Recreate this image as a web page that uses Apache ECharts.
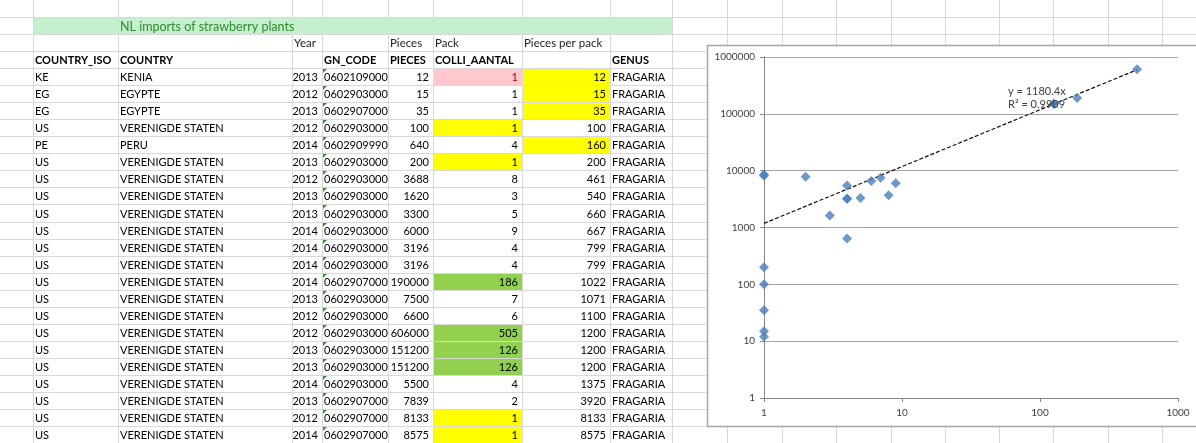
<!DOCTYPE html>
<html><head><meta charset="utf-8">
<script src="https://cdn.jsdelivr.net/npm/echarts@6/dist/echarts.min.js"></script>
<style>html,body{margin:0;padding:0;background:#fff;overflow:hidden}#c{width:1196px;height:443px}</style>
</head><body><div id="c"></div>
<script>
// ---------- data ----------
const sheetTitle = 'NL imports of strawberry plants';
const headerTop = ['', '', 'Year', '', 'Pieces', 'Pack', 'Pieces per pack', ''];
const headerMain = ['COUNTRY_ISO', 'COUNTRY', '', 'GN_CODE', 'PIECES', 'COLLI_AANTAL', '', 'GENUS'];
const countryIso = ['KE','EG','EG','US','PE','US','US','US','US','US','US','US','US','US','US','US','US','US','US','US','US','US'];
const countryName = ['KENIA','EGYPTE','EGYPTE','VERENIGDE STATEN','PERU','VERENIGDE STATEN','VERENIGDE STATEN','VERENIGDE STATEN','VERENIGDE STATEN','VERENIGDE STATEN','VERENIGDE STATEN','VERENIGDE STATEN','VERENIGDE STATEN','VERENIGDE STATEN','VERENIGDE STATEN','VERENIGDE STATEN','VERENIGDE STATEN','VERENIGDE STATEN','VERENIGDE STATEN','VERENIGDE STATEN','VERENIGDE STATEN','VERENIGDE STATEN'];
const years = [2013,2012,2013,2012,2014,2013,2012,2013,2013,2014,2014,2014,2014,2013,2012,2012,2013,2013,2014,2013,2012,2014];
const gnCodes = ['0602109000','0602903000','0602907000','0602903000','0602909990','0602903000','0602903000','0602903000','0602903000','0602903000','0602903000','0602903000','0602907000','0602903000','0602903000','0602903000','0602903000','0602903000','0602903000','0602907000','0602907000','0602907000'];
const pieces = [12,15,35,100,640,200,3688,1620,3300,6000,3196,3196,190000,7500,6600,606000,151200,151200,5500,7839,8133,8575];
const packs = [1,1,1,1,4,1,8,3,5,9,4,4,186,7,6,505,126,126,4,2,1,1];
const piecesPerPack = [12,15,35,100,160,200,461,540,660,667,799,799,1022,1071,1100,1200,1200,1200,1375,3920,8133,8575];
const genus = ['FRAGARIA','FRAGARIA','FRAGARIA','FRAGARIA','FRAGARIA','FRAGARIA','FRAGARIA','FRAGARIA','FRAGARIA','FRAGARIA','FRAGARIA','FRAGARIA','FRAGARIA','FRAGARIA','FRAGARIA','FRAGARIA','FRAGARIA','FRAGARIA','FRAGARIA','FRAGARIA','FRAGARIA','FRAGARIA'];
const packFlags = ['bad','','','yellow','','yellow','','','','','','','green','','','green','green','green','','','yellow','yellow'];
const perPackFlags = ['yellow','yellow','yellow','','yellow','','','','','','','','','','','','','','','','',''];
const trendSlope = 1180.4;
const trendR2 = '0.9909';
const xTicks = [1, 10, 100, 1000];
const yTicks = [1, 10, 100, 1000, 10000, 100000, 1000000];

// ---------- layout / style ----------
const W = 1196, H = 443;
const nRows = 26;
const colEdges = [0, 33, 118, 292, 322, 388, 433, 522, 610, 672];
const extraCols = [727, 782, 836, 891, 945, 999, 1053, 1108, 1162];
const FONT = 'Lato, "Open Sans", sans-serif';
const FS = 11;
const fills = { yellow: '#ffff00', green: '#92d050', bad: '#ffc7ce', title: '#c6efce' };
const textCol = '#000000';

// build table cells (col 1 = first column after the narrow column A)
const cells = [];
function cell(col, row, text, opt) { cells.push(Object.assign({ col, row, text: String(text), align: 'left', span: 1, bold: false, fill: null, color: textCol, tri: false, size: FS }, opt || {})); }
cell(1, 1, '', { span: 8, fill: fills.title });
cell(2, 1, sheetTitle, { color: '#2e8b2e', size: 12.5 });
headerTop.forEach((t, i) => { if (t) cell(i + 1, 2, t, { size: 11.5, color: '#222' }); });
headerMain.forEach((t, i) => { if (t) cell(i + 1, 3, t, { bold: true }); });
for (let i = 0; i < countryIso.length; i++) {
  const r = 4 + i;
  cell(1, r, countryIso[i]);
  cell(2, r, countryName[i]);
  cell(3, r, years[i], { align: 'right' });
  cell(4, r, gnCodes[i], { tri: true });
  cell(5, r, pieces[i], { align: 'right' });
  const pf = packFlags[i];
  cell(6, r, packs[i], { align: 'right', fill: pf ? fills[pf] : null, color: pf === 'bad' ? '#9c0006' : textCol });
  const qf = perPackFlags[i];
  cell(7, r, piecesPerPack[i], { align: 'right', fill: qf ? fills[qf] : null });
  cell(8, r, genus[i]);
}

// spreadsheet gridlines (graphic)
const gridColor = '#d9d9d9';
const graphics = [];
const rowH = H / nRows;
for (let r = 1; r <= nRows; r++) {
  const y = Math.round(r * rowH) + 0.5;
  graphics.push({ type: 'line', z: 0, silent: true, shape: { x1: 0, y1: y, x2: W, y2: y }, style: { stroke: gridColor, lineWidth: 1 } });
}
colEdges.slice(1).concat(extraCols).forEach(x => {
  graphics.push({ type: 'line', z: 0, silent: true, shape: { x1: x + 0.5, y1: 0, x2: x + 0.5, y2: H }, style: { stroke: gridColor, lineWidth: 1 } });
});
// chart area box
graphics.push({ type: 'rect', z: 1, silent: true, shape: { x: 707.5, y: 45.5, width: 520, height: 381 }, style: { fill: '#fff', stroke: '#a6a6a6', lineWidth: 1.5 } });
// trendline equation
graphics.push({ type: 'text', z: 20, left: 1008, top: 86, style: { text: 'y = ' + trendSlope + 'x', fontSize: 11, fontFamily: FONT, fill: '#404040' } });
graphics.push({ type: 'text', z: 20, left: 1008, top: 99, style: { text: 'R² = ' + trendR2, fontSize: 11, fontFamily: FONT, fill: '#404040' } });

const scatterData = packs.map((p, i) => [p, pieces[i]]);
const maxPack = Math.max.apply(null, packs);
const trendData = [[1, trendSlope * 1], [maxPack, trendSlope * maxPack]];

const chart = echarts.init(document.getElementById('c'), null, { renderer: 'canvas' });
chart.setOption({
  animation: false,
  graphic: { elements: graphics },
  grid: [
    { left: 0, top: 0, width: colEdges[colEdges.length - 1], height: H, z: 3, containLabel: false, outerBoundsMode: 'none' },
    { left: 764, top: 57, width: 414, height: 341, z: 5, containLabel: false, outerBoundsMode: 'none' }
  ],
  xAxis: [
    { gridIndex: 0, type: 'value', min: 0, max: colEdges[colEdges.length - 1], show: false },
    { gridIndex: 1, type: 'log', logBase: 10, min: 1, max: 1000, z: 5,
      axisLine: { show: true, lineStyle: { color: '#868686', width: 1 } },
      axisTick: { show: true, length: 4, lineStyle: { color: '#868686' } },
      axisLabel: { color: '#404040', fontSize: 10, fontFamily: FONT, margin: 10, formatter: v => String(v) },
      splitLine: { show: false }, minorTick: { show: false } }
  ],
  yAxis: [
    { gridIndex: 0, type: 'category', data: Array.from({ length: nRows }, (_, i) => String(i)), inverse: true, show: false },
    { gridIndex: 1, type: 'log', logBase: 10, min: 1, max: 1000000, z: 5,
      axisLine: { show: true, lineStyle: { color: '#868686', width: 1 } },
      axisTick: { show: true, length: 4, lineStyle: { color: '#868686' } },
      axisLabel: { color: '#404040', fontSize: 10, fontFamily: FONT, margin: 9, formatter: v => String(Math.round(v)) },
      splitLine: { show: true, lineStyle: { color: '#a6a6a6', width: 1 } } }
  ],
  series: [
    {
      type: 'custom', xAxisIndex: 0, yAxisIndex: 0, z: 3, silent: true,
      data: cells.map(c => [colEdges[c.col], c.row]),
      renderItem: function (params, api) {
        const c = cells[params.dataIndex];
        const p0 = api.coord([colEdges[c.col], c.row]);
        const p1 = api.coord([colEdges[c.col + c.span], c.row]);
        const h = api.size([0, 1])[1];
        const top = p0[1] - h / 2;
        const children = [];
        if (c.fill) children.push({ type: 'rect', shape: { x: p0[0] + 1, y: Math.round(top) + 1, width: p1[0] - p0[0] - 1, height: Math.round(top + h) - Math.round(top) - 1 }, style: { fill: c.fill } });
        if (c.text) children.push({ type: 'text', style: {
          x: c.align === 'right' ? p1[0] - 4 : p0[0] + 2, y: p0[1] + 1, text: c.text,
          align: c.align, verticalAlign: 'middle', fontSize: c.size, fontFamily: FONT,
          fontWeight: c.bold ? 'bold' : 'normal', fill: c.color } });
        if (c.tri) children.push({ type: 'polygon', shape: { points: [[p0[0] + 1, Math.round(top) + 1], [p0[0] + 5, Math.round(top) + 1], [p0[0] + 1, Math.round(top) + 5]] }, style: { fill: '#2a9a2a' } });
        return { type: 'group', children: children };
      }
    },
    {
      type: 'line', xAxisIndex: 1, yAxisIndex: 1, z: 6, data: trendData, symbol: 'none', silent: true,
      lineStyle: { color: '#111', width: 1.2, type: [4, 2] }
    },
    {
      type: 'scatter', xAxisIndex: 1, yAxisIndex: 1, z: 7, data: scatterData, symbol: 'diamond', symbolSize: 10,
      itemStyle: { color: '#4a7ebb' }
    }
  ]
});
</script></body></html>
